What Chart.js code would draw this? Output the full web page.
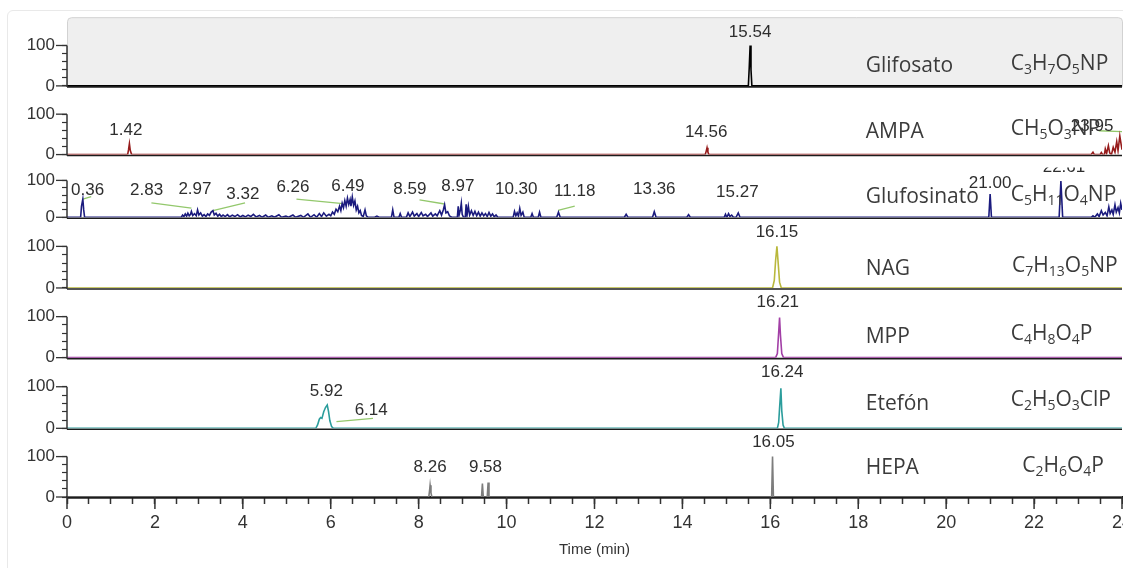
<!DOCTYPE html>
<html lang="es">
<head>
<meta charset="utf-8">
<title>Cromatogramas de iones extraídos</title>
<script src="https://cdn.jsdelivr.net/npm/chart.js@4.4.1/dist/chart.umd.min.js"></script>
<style>
  html, body { margin: 0; padding: 0; background: #fff; overflow: hidden; }
  #stage { position: relative; width: 1123px; height: 568px; }
  #frame { position: absolute; left: 7px; top: 10px; width: 1200px; height: 600px;
           border: 1px solid #e9e9e9; border-radius: 6px; }
  #chrom { position: absolute; left: 0; top: 0; }
</style>
</head>
<body>
<div id="stage"><div id="frame"></div><canvas id="chrom" width="1123" height="568"></canvas></div>
<script>
// ---- Retention-time axis ----
const timeMin = 0;
const timeMax = 24;
const timeMinorStep = 0.5;
const timeLabelStep = 2;

// ---- Relative-abundance axis (each trace) ----
const intensityTicks = [0, 20, 40, 60, 80, 100];
const intensityLabels = [0, 100];

// ---- Compounds, top to bottom ----
const compoundNames = ['Glifosato', 'AMPA', 'Glufosinato', 'NAG', 'MPP', 'Etefón', 'HEPA'];
const compoundFormulas = ['C3H7O5NP', 'CH5O3NP', 'C5H11O4NP', 'C7H13O5NP', 'C4H8O4P', 'C2H5O3ClP', 'C2H6O4P'];

// ---- Traces: [time (min), relative abundance (%)] ----
const glifosatoTrace = [[0, 0], [15.50, 0], [15.52, 45], [15.54, 100], [15.56, 40], [15.58, 0], [24, 0]];

const ampaTrace = [[0, 0], [1.38, 0], [1.40, 12], [1.42, 27], [1.44, 10], [1.47, 0],
  [14.52, 0], [14.54, 8], [14.56, 17], [14.58, 6], [14.60, 0],
  [23.30, 0], [23.34, 6], [23.37, 0], [23.50, 0], [23.53, 5], [23.56, 0], [23.60, 0],
  [23.62, 14], [23.65, 3], [23.69, 22], [23.72, 4], [23.76, 0], [23.80, 18], [23.84, 6],
  [23.88, 32], [23.91, 10], [23.95, 46], [23.98, 25], [24, 12]];

const glufosinatoTrace = [[0, 0], [0.31, 0], [0.33, 30], [0.36, 49], [0.38, 20], [0.40, 0],
  [2.60, 0], [2.63, 6], [2.66, 2], [2.69, 9], [2.72, 3], [2.75, 11], [2.78, 4], [2.81, 8],
  [2.83, 16], [2.86, 5], [2.90, 10], [2.94, 4], [2.97, 20], [3.00, 6], [3.04, 12], [3.08, 3],
  [3.12, 7], [3.16, 2], [3.20, 9], [3.24, 5], [3.28, 14], [3.32, 18], [3.35, 6], [3.39, 11],
  [3.43, 3], [3.47, 8], [3.51, 2], [3.55, 6], [3.60, 2], [3.65, 7], [3.70, 1], [3.76, 6],
  [3.82, 2], [3.88, 7], [3.94, 1], [4.00, 5], [4.06, 1], [4.12, 6], [4.18, 2], [4.24, 8],
  [4.30, 1], [4.38, 5], [4.44, 0], [4.52, 6], [4.58, 0], [4.66, 4], [4.72, 0], [4.82, 7],
  [4.88, 0], [4.98, 3], [5.04, 0], [5.14, 6], [5.20, 0], [5.32, 5], [5.38, 0], [5.48, 9],
  [5.54, 0], [5.62, 7], [5.68, 0], [5.74, 10], [5.79, 2], [5.84, 12], [5.90, 3], [5.96, 8],
  [6.00, 4], [6.04, 14], [6.08, 8], [6.12, 22], [6.16, 15], [6.20, 30], [6.23, 18], [6.26, 38],
  [6.29, 26], [6.32, 45], [6.35, 30], [6.38, 52], [6.41, 35], [6.44, 48], [6.46, 30], [6.49, 55],
  [6.52, 32], [6.55, 44], [6.58, 20], [6.61, 30], [6.64, 12], [6.67, 18], [6.70, 5], [6.74, 2],
  [6.78, 20], [6.81, 4], [6.85, 0], [7.00, 0], [7.05, 3], [7.10, 0], [7.38, 0], [7.41, 20],
  [7.44, 0], [7.55, 0], [7.58, 10], [7.61, 0], [7.72, 0], [7.76, 12], [7.80, 2], [7.86, 14],
  [7.90, 3], [7.96, 10], [8.00, 2], [8.06, 13], [8.10, 4], [8.16, 8], [8.20, 2], [8.28, 12],
  [8.32, 3], [8.38, 9], [8.42, 4], [8.48, 18], [8.52, 6], [8.56, 20], [8.59, 34], [8.62, 12],
  [8.66, 15], [8.70, 4], [8.75, 0], [8.88, 0], [8.90, 30], [8.92, 6], [8.95, 20], [8.97, 38],
  [8.99, 8], [9.02, 0], [9.06, 0], [9.08, 35], [9.10, 5], [9.13, 30], [9.16, 6], [9.20, 18],
  [9.24, 5], [9.28, 16], [9.32, 4], [9.36, 14], [9.40, 3], [9.44, 12], [9.48, 4], [9.52, 10],
  [9.56, 2], [9.60, 13], [9.64, 3], [9.68, 9], [9.72, 1], [9.76, 6], [9.80, 0],
  [10.15, 0], [10.18, 16], [10.21, 4], [10.24, 12], [10.27, 3], [10.30, 24], [10.33, 5],
  [10.37, 14], [10.40, 0], [10.55, 0], [10.58, 10], [10.61, 0], [10.72, 0], [10.75, 14],
  [10.78, 0], [11.14, 0], [11.18, 14], [11.22, 0], [12.68, 0], [12.72, 8], [12.76, 0],
  [13.32, 0], [13.36, 15], [13.40, 0], [14.10, 0], [14.14, 7], [14.18, 0], [14.95, 0],
  [14.98, 8], [15.01, 0], [15.05, 10], [15.08, 2], [15.12, 6], [15.16, 0], [15.22, 0],
  [15.27, 12], [15.31, 0], [20.97, 0], [21.00, 63], [21.03, 0], [22.57, 0], [22.61, 98],
  [22.65, 0], [23.30, 0], [23.34, 4], [23.38, 0], [23.44, 9], [23.48, 2], [23.53, 18],
  [23.57, 6], [23.62, 13], [23.66, 4], [23.70, 28], [23.73, 10], [23.77, 20], [23.80, 8],
  [23.84, 34], [23.87, 14], [23.91, 26], [23.94, 12], [23.97, 38], [24, 20]];

const nagTrace = [[0, 0], [16.05, 0], [16.09, 18], [16.12, 66], [16.15, 100], [16.18, 58], [16.21, 14], [16.25, 0], [24, 0]];

const mppTrace = [[0, 0], [16.12, 0], [16.16, 10], [16.19, 62], [16.21, 98], [16.23, 55], [16.26, 10], [16.30, 0], [24, 0]];

const etefonTrace = [[0, 0], [5.66, 0], [5.70, 8], [5.74, 22], [5.77, 26], [5.80, 24], [5.84, 40],
  [5.88, 50], [5.92, 56], [5.95, 40], [5.98, 18], [6.02, 4], [6.06, 0],
  [16.16, 0], [16.19, 14], [16.21, 48], [16.24, 96], [16.26, 42], [16.29, 8], [16.32, 0], [24, 0]];

const hepaTrace = [[0, 0], [8.23, 0], [8.25, 18], [8.26, 29], [8.28, 10], [8.30, 0],
  [9.43, 0], [9.45, 33], [9.47, 0], [9.56, 0], [9.58, 36], [9.60, 0],
  [16.03, 0], [16.05, 100], [16.07, 0], [24, 0]];

// ---- Labelled retention times ----
const glifosatoPeaks = ['15.54'];
const ampaPeaks = ['1.42', '14.56', '23.95'];
const glufosinatoPeaks = ['0.36', '2.83', '2.97', '3.32', '6.26', '6.49', '8.59', '8.97', '10.30', '11.18', '13.36', '15.27', '21.00', '22.61'];
const nagPeaks = ['16.15'];
const mppPeaks = ['16.21'];
const etefonPeaks = ['5.92', '6.14', '16.24'];
const hepaPeaks = ['8.26', '9.58', '16.05'];

// ---- Label leader lines: [[time, abundance], [time, abundance]] ----
const ampaLeaders = [[[23.47, 59], [24, 57]]];
const glufosinatoLeaders = [
  [[0.36, 49], [0.55, 56]], [[1.92, 39], [2.83, 25]], [[3.32, 18], [4.05, 39]],
  [[5.22, 49], [6.28, 37]], [[8.02, 47], [8.59, 36]], [[11.17, 19], [11.55, 30]]];
const etefonLeaders = [[[6.13, 16], [6.96, 24]]];

const traces = [glifosatoTrace, ampaTrace, glufosinatoTrace, nagTrace, mppTrace, etefonTrace, hepaTrace];
const peakLists = [glifosatoPeaks, ampaPeaks, glufosinatoPeaks, nagPeaks, mppPeaks, etefonPeaks, hepaPeaks];
const leaderLists = [[], ampaLeaders, glufosinatoLeaders, [], [], etefonLeaders, []];

// ---- Styling and layout ----
const traceColors = ['#000000', '#961c1c', '#1b1b7e', '#b9b83c', '#a23fa6', '#2b9d9c', '#7d7d7d'];
const leaderColor = '#93c86c';
const panelWeights = [69, 69, 63, 71, 70, 71, 69];
const panelMax = 170;
// label text centre: [time shift from the retention time, abundance level]
const labelPlacement = [
  { '15.54': [0, 133] },
  { '1.42': [-0.08, 61], '14.56': [-0.02, 54], '23.95': [-0.63, 69] },
  { '0.36': [0.11, 72], '2.83': [-1.02, 72], '2.97': [-0.06, 77], '3.32': [0.68, 63],
    '6.26': [-1.12, 81], '6.49': [-0.1, 84], '8.59': [-0.79, 75], '8.97': [-0.08, 84],
    '10.30': [-0.08, 75], '11.18': [0.37, 70], '13.36': [0, 75], '15.27': [-0.02, 68],
    '21.00': [0, 93], '22.61': [0.07, 135] },
  { '16.15': [0, 134] },
  { '16.21': [-0.04, 134] },
  { '5.92': [-0.02, 88], '6.14': [0.78, 44], '16.24': [0.03, 134] },
  { '8.26': [0, 74], '9.58': [-0.06, 74], '16.05': [0.02, 136] }
];
// labels partly hidden under the trace above: abundance where the text is cut
const labelCut = { 2: { '22.61': 135 } };
const nameTime = 18.17;
const formulaTime = [21.47, 21.47, 21.47, 21.5, 21.47, 21.47, 21.73];
const nameLevel = [34, 42, 39, 31, 36, 45, 58];
const formulaLevel = [39, 49, 43, 38, 44, 53, 62];

const numFont = '"Liberation Sans", Arial, sans-serif';
const textFont = '"Open Sans", "Noto Sans", sans-serif';

function drawFormula(ctx, formula, x, y) {
  const parts = formula.match(/[A-Z][a-z]?|\d+/g);
  let cx = x;
  for (const part of parts) {
    const isIndex = /^\d+$/.test(part);
    ctx.font = isIndex ? '14px ' + textFont : '21px ' + textFont;
    ctx.fillText(part, cx, isIndex ? y + 4 : y);
    cx += ctx.measureText(part).width;
  }
}

const decorPlugin = {
  id: 'chromDecor',
  beforeDatasetsDraw(chart) {
    const { ctx, scales } = chart;
    const x = scales.x;
    const top = scales.p0;
    ctx.save();
    // shaded first trace
    ctx.fillStyle = '#efefef';
    ctx.strokeStyle = '#d2d2d2';
    ctx.lineWidth = 1;
    ctx.beginPath();
    ctx.roundRect(x.left + 0.5, top.top + 0.5, x.right - x.left, top.bottom - top.top, [4, 4, 0, 0]);
    ctx.fill();
    ctx.stroke();
    // dark zero line under every trace
    traces.forEach((t, i) => {
      const yb = scales['p' + i].getPixelForValue(0) + 1;
      ctx.strokeStyle = '#1c1c1c';
      ctx.lineWidth = 1.6;
      ctx.beginPath();
      ctx.moveTo(x.left, yb);
      ctx.lineTo(x.right, yb);
      ctx.stroke();
    });
    ctx.restore();
  },
  afterDatasetsDraw(chart) {
    const { ctx, scales, chartArea } = chart;
    const x = scales.x;
    ctx.save();
    // vertical spines and long 0/100 ticks
    ctx.strokeStyle = '#333';
    traces.forEach((t, i) => {
      const ys = scales['p' + i];
      ctx.lineWidth = 1.5;
      ctx.beginPath();
      ctx.moveTo(chartArea.left, ys.getPixelForValue(0) + 1);
      ctx.lineTo(chartArea.left, ys.getPixelForValue(100));
      ctx.stroke();
      ctx.lineWidth = 1.3;
      intensityLabels.forEach(v => {
        const py = ys.getPixelForValue(v);
        ctx.beginPath();
        ctx.moveTo(chartArea.left - 11, py);
        ctx.lineTo(chartArea.left, py);
        ctx.stroke();
      });
    });
    // long time ticks at the numbered positions
    ctx.lineWidth = 1.5;
    for (let v = timeMin; v <= timeMax; v += timeLabelStep) {
      const px = x.getPixelForValue(v);
      ctx.beginPath();
      ctx.moveTo(px, chartArea.bottom);
      ctx.lineTo(px, chartArea.bottom + 12);
      ctx.stroke();
    }
    // retention-time labels
    ctx.fillStyle = '#2e2e2e';
    ctx.font = '17px ' + numFont;
    ctx.textAlign = 'center';
    ctx.textBaseline = 'middle';
    peakLists.forEach((list, i) => {
      const ys = scales['p' + i];
      list.forEach(txt => {
        const [dt, v] = labelPlacement[i][txt];
        const px = x.getPixelForValue(parseFloat(txt) + dt);
        const py = ys.getPixelForValue(v);
        ctx.save();
        const cut = labelCut[i] && labelCut[i][txt];
        if (cut !== undefined) {
          const cy = ys.getPixelForValue(cut);
          ctx.beginPath();
          ctx.rect(chartArea.left, cy, chartArea.right - chartArea.left, chartArea.bottom - cy);
          ctx.clip();
        }
        ctx.fillText(txt, px, py);
        ctx.restore();
      });
    });
    // compound names and formulas
    ctx.fillStyle = '#3b3b3b';
    ctx.textAlign = 'left';
    ctx.textBaseline = 'alphabetic';
    compoundNames.forEach((name, i) => {
      const ys = scales['p' + i];
      ctx.font = '21px ' + textFont;
      ctx.fillText(name, x.getPixelForValue(nameTime), ys.getPixelForValue(nameLevel[i]));
      drawFormula(ctx, compoundFormulas[i], x.getPixelForValue(formulaTime[i]), ys.getPixelForValue(formulaLevel[i]));
    });
    ctx.restore();
  }
};

const datasets = [];
traces.forEach((trace, i) => {
  datasets.push({
    data: trace.map(([t, v]) => ({ x: t, y: v })),
    yAxisID: 'p' + i,
    borderColor: traceColors[i],
    borderWidth: 1.6,
    pointRadius: 0,
    tension: 0,
    fill: false
  });
  leaderLists[i].forEach(seg => {
    datasets.push({
      data: seg.map(([t, v]) => ({ x: t, y: v })),
      yAxisID: 'p' + i,
      borderColor: leaderColor,
      borderWidth: 1.3,
      pointRadius: 0,
      fill: false
    });
  });
});

const scales = {
  x: {
    type: 'linear', position: 'bottom', min: timeMin, max: timeMax,
    ticks: {
      stepSize: timeMinorStep, autoSkip: false, maxRotation: 0, padding: 8, color: '#333',
      font: { family: numFont, size: 18 },
      callback: v => (v % timeLabelStep === 0 ? String(v) : '')
    },
    grid: { drawOnChartArea: false, drawTicks: true, tickLength: 7, tickColor: '#333', tickWidth: 1.5 },
    border: { display: true, color: '#1c1c1c', width: 2 },
    title: { display: true, text: 'Time (min)', color: '#333', font: { family: numFont, size: 15 }, padding: { top: 0, bottom: 9 } },
    afterFit: s => { s.height = 71; s.paddingLeft = 0; s.paddingRight = 0; }
  }
};
traces.forEach((t, i) => {
  scales['p' + i] = {
    type: 'linear', position: 'left', stack: 'traces', stackWeight: panelWeights[i],
    weight: traces.length - i, min: 0, max: panelMax,
    afterBuildTicks: s => { s.ticks = intensityTicks.map(v => ({ value: v })); },
    ticks: {
      autoSkip: false, padding: 7, color: '#333', font: { family: numFont, size: 17 },
      callback: v => (intensityLabels.includes(v) ? String(v) : '')
    },
    grid: { drawOnChartArea: false, drawTicks: true, tickLength: 5, tickColor: '#333', tickWidth: 1.2 },
    border: { display: false },
    afterFit: s => { s.width = 67; }
  };
});

new Chart(document.getElementById('chrom'), {
  type: 'line',
  data: { datasets },
  options: {
    responsive: false,
    animation: false,
    layout: { padding: { top: 15, right: 1, bottom: 0, left: 0 } },
    plugins: { legend: { display: false }, tooltip: { enabled: false } },
    scales
  },
  plugins: [decorPlugin]
});
</script>
</body>
</html>
